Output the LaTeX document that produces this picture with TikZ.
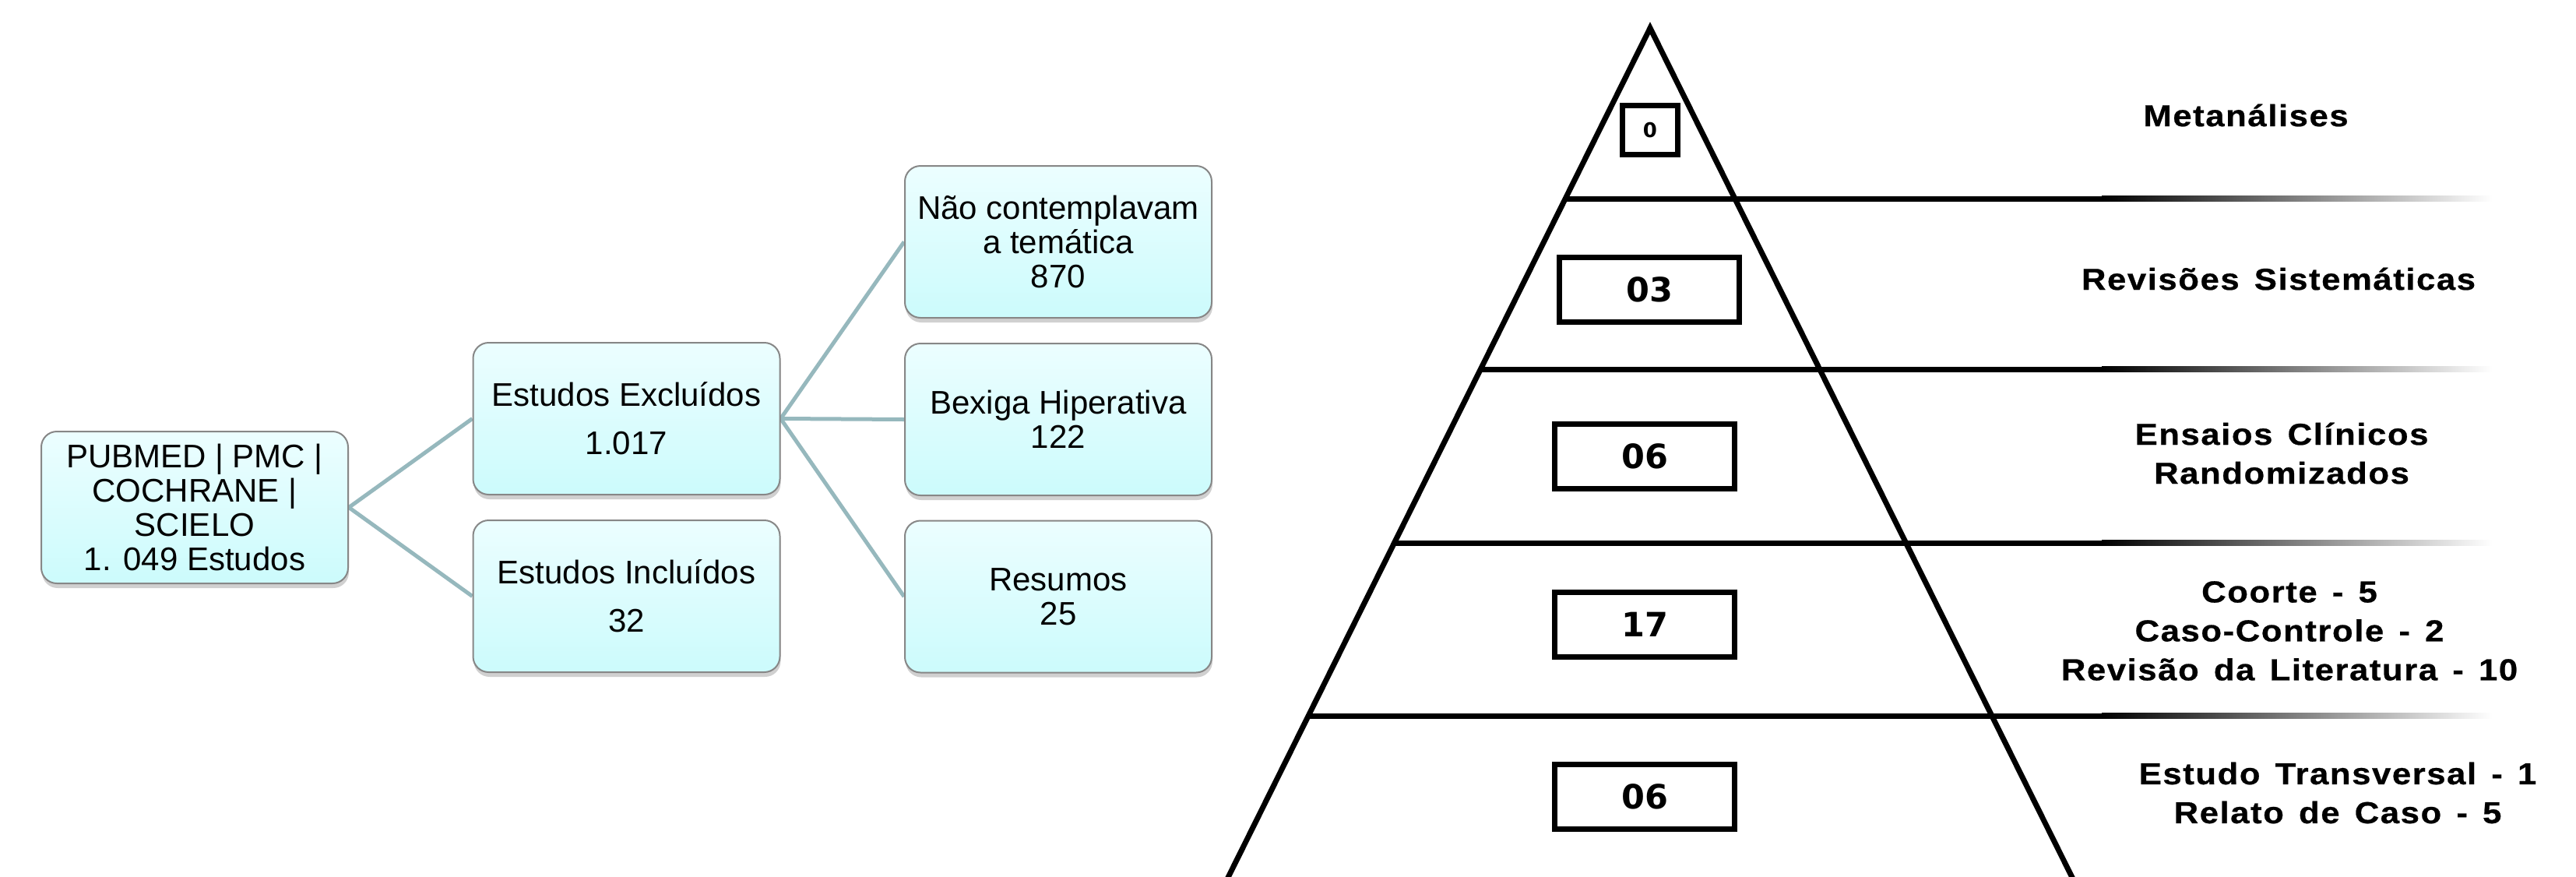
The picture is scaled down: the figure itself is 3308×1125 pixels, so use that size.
\documentclass[tikz,border=0pt]{standalone}
\usepackage{fontspec}
\setmainfont{Liberation Sans}
\newfontfamily\lblfont{Liberation Sans}[LetterSpace=4,FakeStretch=1.12,FakeBold=0.6,WordSpace=1.4]
\newfontfamily\numfont{DejaVu Sans}
\usetikzlibrary{shadows,backgrounds}
\definecolor{conncol}{RGB}{150,184,189}
\definecolor{boxtop}{RGB}{236,254,255}
\definecolor{boxbot}{RGB}{204,251,252}
\definecolor{boxline}{RGB}{135,135,135}
\tikzset{
  flowbox/.style={rectangle, rounded corners=20pt, draw=boxline, line width=2pt,
    top color=boxtop, bottom color=boxbot, minimum width=394pt, minimum height=195pt,
    inner sep=0pt, align=center, font=\fontsize{42}{44}\selectfont,
    drop shadow={shadow xshift=1pt, shadow yshift=-6pt, opacity=0.3, fill=black!60}},
  conn/.style={draw=conncol, line width=5pt},
  numbox/.style={draw=black, line width=7pt, minimum width=231pt, minimum height=83pt,
    inner sep=0pt, font=\numfont\bfseries\fontsize{43}{45}\selectfont},
  pyrline/.style={line width=7pt, black},
  lvllabel/.style={align=center, inner sep=0pt,
    font=\lblfont\bfseries\fontsize{39}{50}\selectfont},
}
\begin{document}
\begin{tikzpicture}[x=1pt,y=-1pt]
\useasboundingbox (0,0) rectangle (3308,1125);
% left flow
\node[flowbox] (root) at (250,651.5) {PUBMED | PMC |\\COCHRANE |\\SCIELO\\1. 049 Estudos};
\node[flowbox, font=\fontsize{42}{62}\selectfont] (excl) at (804.5,537.5) {Estudos Excluídos\\1.017};
\node[flowbox, font=\fontsize{42}{62}\selectfont] (incl) at (804.5,765.5) {Estudos Incluídos\\32};
\node[flowbox] (r1) at (1359,310.5) {Não contemplavam\\a temática\\870};
\node[flowbox] (r2) at (1359,538.5) {Bexiga Hiperativa\\122};
\node[flowbox] (r3) at (1359,766) {Resumos\\25};
\begin{scope}[on background layer]
\fill[white] (0,0) rectangle (3308,1125);
\draw[conn] (root.east) -- (excl.west);
\draw[conn] (root.east) -- (incl.west);
\draw[conn] (excl.east) -- (r1.west);
\draw[conn] (excl.east) -- (r2.west);
\draw[conn] (excl.east) -- (r3.west);
\end{scope}
% pyramid
\coordinate (apex) at (2119,36);
\coordinate (bl) at (1560.4,1160);
\coordinate (br) at (2677.6,1160);
\begin{scope}
\clip (0,0) rectangle (3308,1125);
\draw[pyrline, line join=miter] (bl) -- (apex) -- (br);
\end{scope}
\foreach \yy in {255,474,697,919}{
  \pgfmathsetmacro\xx{2119-0.497*(\yy-36)}
  \draw[line width=7pt] (\xx,\yy) -- (2700,\yy);
  \shade[left color=black, right color=white] (2699,\yy-3.5) rectangle (3200,\yy+3.5);
}
\node[numbox, minimum width=71pt, minimum height=63pt, font=\numfont\bfseries\fontsize{26}{28}\selectfont] (n0) at (2119,167) {0};
\node[numbox] (n1) at (2118,372) {03};
\node[numbox] (n2) at (2112,586) {06};
\node[numbox] (n3) at (2112,801.5) {17};
\node[numbox] (n4) at (2112,1022.5) {06};
\node[lvllabel] (l0) at (2884,148) {Metanálises};
\node[lvllabel] (l1) at (2926,358) {Revisões Sistemáticas};
\node[lvllabel] (l2) at (2930,582) {Ensaios Clínicos\\Randomizados};
\node[lvllabel] (l3) at (2940,810) {Coorte - 5\\Caso-Controle - 2\\Revisão da Literatura - 10};
\node[lvllabel] (l4) at (3002,1018) {Estudo Transversal - 1\\Relato de Caso - 5};
\end{tikzpicture}
\end{document}
